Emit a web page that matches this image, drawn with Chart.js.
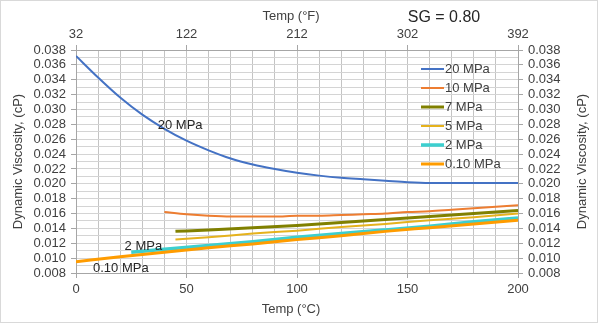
<!DOCTYPE html>
<html>
<head>
<meta charset="utf-8">
<script src="https://cdn.jsdelivr.net/npm/chart.js@4.4.0/dist/chart.umd.min.js"></script>
<style>
html, body { margin: 0; padding: 0; background: #fff; }
canvas { display: block; }
</style>
</head>
<body>
<canvas id="viscChart" width="600" height="324"></canvas>
<script>
// series (temperature in degC, viscosity in cP)
const seriesLabels = ['20 MPa', '10 MPa', '7 MPa', '5 MPa', '2 MPa', '0.10 MPa']

const temp20 = [0, 10, 20, 30, 40, 50, 60, 70, 80, 90, 100, 110, 120, 130, 140, 150, 160, 170, 180, 190, 200]
const visc20 = [0.0372, 0.0343, 0.0316, 0.0293, 0.0274, 0.0258, 0.0245, 0.0234, 0.0226, 0.0220, 0.0215, 0.0211, 0.0208, 0.0206, 0.0204, 0.0202, 0.0201, 0.0201, 0.0201, 0.0201, 0.0201]

const temp10 = [40, 50, 60, 70, 80, 90, 100, 110, 120, 130, 140, 150, 160, 170, 180, 190, 200]
const visc10 = [0.0162, 0.0159, 0.0157, 0.0156, 0.0156, 0.0156, 0.0157, 0.0157, 0.0158, 0.0159, 0.0160, 0.0162, 0.0163, 0.0165, 0.0167, 0.0169, 0.0171]

const temp7 = [45, 60, 80, 100, 120, 140, 160, 180, 200]
const visc7 = [0.0136, 0.0138, 0.0141, 0.0144, 0.0148, 0.0152, 0.0156, 0.0160, 0.0164]

const temp5 = [45, 60, 80, 100, 120, 140, 160, 180, 200]
const visc5 = [0.0125, 0.0128, 0.0133, 0.0137, 0.0142, 0.0146, 0.0151, 0.0155, 0.0160]

const temp2 = [25, 40, 60, 80, 100, 120, 140, 160, 180, 200]
const visc2 = [0.0108, 0.0112, 0.0117, 0.0122, 0.0128, 0.0133, 0.0138, 0.0143, 0.0149, 0.0154]

const temp01 = [0, 20, 40, 60, 80, 100, 120, 140, 160, 180, 200]
const visc01 = [0.0095, 0.0102, 0.0108, 0.0114, 0.0119, 0.0125, 0.0130, 0.0136, 0.0141, 0.0146, 0.0151]

// tick labels
const celsiusTicks = [0, 50, 100, 150, 200]
const fahrenheitTicks = [32, 122, 212, 302, 392]

// in-plot labels: [text, temp degC, viscosity]
const curveNotes = [['20 MPa', 37, 0.0278], ['2 MPa', 22, 0.0116], ['0.10 MPa', 7.7, 0.0086]]

const FONT = "'Liberation Sans', Arial, sans-serif"
const TXT = '#404040'

const colors = ['#4472c4', '#ed7d31', '#808000', '#e5b21d', '#3ccfcf', '#ff9c00']
const widths = [2, 2, 3, 2, 3.5, 3]
const temps = [temp20, temp10, temp7, temp5, temp2, temp01]
const viscs = [visc20, visc10, visc7, visc5, visc2, visc01]

const datasets = seriesLabels.map((label, i) => ({
    label: label,
    data: temps[i].map((t, j) => ({ x: t, y: viscs[i][j] })),
    borderColor: colors[i],
    backgroundColor: colors[i],
    borderWidth: widths[i],
    pointRadius: 0,
    cubicInterpolationMode: 'monotone',
    fill: false,
    order: seriesLabels.length - i
}))

const isCelsiusLabel = v => celsiusTicks.includes(Math.round(v))
const isFahrLabel = v => fahrenheitTicks.includes(Math.round(v))
const isViscLabel = v => Math.round(v * 1000) % 2 === 0

const tickFont = { family: FONT, size: 13 }

const extras = {
    id: 'extras',
    afterDraw(chart) {
        const ctx = chart.ctx
        const a = chart.chartArea
        const xs = chart.scales.x, ys = chart.scales.y
        ctx.save()
        // outer frame
        ctx.strokeStyle = '#d9d9d9'
        ctx.lineWidth = 1
        ctx.strokeRect(0.5, 0.5, 597, 322)

        ctx.fillStyle = TXT
        ctx.font = '13px ' + FONT
        ctx.textAlign = 'center'
        ctx.textBaseline = 'middle'
        const midX = (a.left + a.right) / 2
        const midY = (a.top + a.bottom) / 2
        ctx.fillText('Temp (°C)', midX - 6, 309)
        ctx.fillText('Temp (°F)', midX - 6, 16)
        ctx.save()
        ctx.translate(18, midY)
        ctx.rotate(-Math.PI / 2)
        ctx.fillText('Dynamic Viscosity, (cP)', 0, 0)
        ctx.restore()
        ctx.save()
        ctx.translate(582, midY)
        ctx.rotate(-Math.PI / 2)
        ctx.fillText('Dynamic Viscosity, (cP)', 0, 0)
        ctx.restore()

        ctx.font = '16px ' + FONT
        ctx.fillStyle = '#262626'
        ctx.fillText('SG = 0.80', 444, 18)

        // curve notes
        ctx.font = '13px ' + FONT
        ctx.fillStyle = '#262626'
        ctx.textAlign = 'left'
        curveNotes.forEach(n => {
            ctx.fillText(n[0], xs.getPixelForValue(n[1]), ys.getPixelForValue(n[2]))
        })

        // legend
        ctx.fillStyle = TXT
        chart.data.datasets.forEach((ds, i) => {
            const y = 69 + i * 19
            ctx.strokeStyle = ds.borderColor
            ctx.lineWidth = ds.borderWidth
            ctx.beginPath()
            ctx.moveTo(421, y)
            ctx.lineTo(444, y)
            ctx.stroke()
            ctx.fillText(ds.label, 445, y)
        })
        ctx.restore()
    }
}

new Chart(document.getElementById('viscChart'), {
    type: 'line',
    data: { datasets: datasets },
    options: {
        responsive: false,
        animation: false,
        devicePixelRatio: 1,
        layout: { padding: 0 },
        plugins: { legend: { display: false }, tooltip: { enabled: false } },
        scales: {
            x: {
                type: 'linear', position: 'bottom', min: 0, max: 200,
                afterFit: s => { s.height = 51 },
                ticks: {
                    stepSize: 10, autoSkip: false, maxRotation: 0, padding: 4,
                    color: TXT, font: tickFont,
                    callback: v => isCelsiusLabel(v) ? String(Math.round(v)) : ''
                },
                grid: {
                    color: '#c4c4c4', tickLength: 5,
                    tickColor: c => isCelsiusLabel(c.tick.value) ? '#a6a6a6' : 'rgba(0,0,0,0)'
                },
                border: { color: '#a6a6a6' }
            },
            x2: {
                type: 'linear', position: 'top', min: 32, max: 392,
                afterFit: s => { s.height = 50 },
                ticks: {
                    stepSize: 18, autoSkip: false, maxRotation: 0, padding: 3,
                    color: TXT, font: tickFont,
                    callback: v => isFahrLabel(v) ? String(Math.round(v)) : ''
                },
                grid: {
                    drawOnChartArea: false, tickLength: 5,
                    tickColor: c => isFahrLabel(c.tick.value) ? '#a6a6a6' : 'rgba(0,0,0,0)'
                },
                border: { color: '#a6a6a6' }
            },
            y: {
                type: 'linear', position: 'left', min: 0.008, max: 0.038,
                afterFit: s => { s.width = 76 },
                ticks: {
                    stepSize: 0.001, maxTicksLimit: 40, autoSkip: false, padding: 5,
                    color: TXT, font: tickFont,
                    callback: v => isViscLabel(v) ? v.toFixed(3) : ''
                },
                grid: {
                    color: '#d4d4d4', tickLength: 5,
                    tickColor: c => isViscLabel(c.tick.value) ? '#a6a6a6' : 'rgba(0,0,0,0)'
                },
                border: { color: '#a6a6a6' }
            },
            y2: {
                type: 'linear', position: 'right', min: 0.008, max: 0.038,
                afterFit: s => { s.width = 82 },
                ticks: {
                    stepSize: 0.001, maxTicksLimit: 40, autoSkip: false, padding: 5,
                    color: TXT, font: tickFont,
                    callback: v => isViscLabel(v) ? v.toFixed(3) : ''
                },
                grid: {
                    drawOnChartArea: false, tickLength: 5,
                    tickColor: c => isViscLabel(c.tick.value) ? '#a6a6a6' : 'rgba(0,0,0,0)'
                },
                border: { color: '#a6a6a6' }
            }
        }
    },
    plugins: [extras]
})
</script>
</body>
</html>
